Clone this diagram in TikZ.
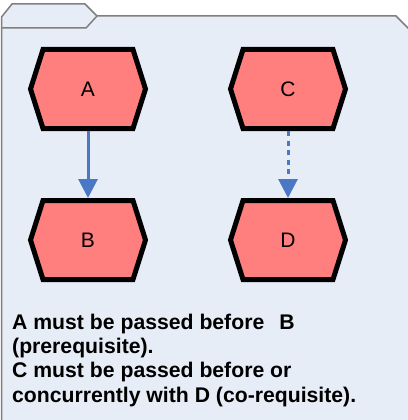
\documentclass[tikz,border=0pt]{standalone}
\usepackage{fontspec}
\setmainfont{Liberation Sans}
\usetikzlibrary{arrows.meta,calc}
\definecolor{folderbg}{HTML}{E7EDF7}
\definecolor{folderline}{HTML}{7F7F7F}
\definecolor{hexfill}{HTML}{FF7F7F}
\definecolor{arrowblue}{HTML}{4A78C4}
\tikzset{
  hexbox/.style={rectangle, draw=none, minimum width=115pt, minimum height=79pt,
    inner sep=0pt, outer sep=0pt, font=\fontsize{21}{24}\selectfont},
  hexline/.style={draw=black, fill=hexfill, line width=5pt, line join=miter},
  link/.style={draw=arrowblue, line width=3pt, shorten <=2.5pt, shorten >=2.5pt,
    -{Triangle[width=19pt,length=19pt]}},
  dashlink/.style={link, dash pattern=on 5pt off 4.5pt},
  folder/.style={draw=folderline, fill=folderbg, line width=1.5pt, line join=miter}
}
\newcommand{\hexagonof}[1]{%
  \path[hexline] (#1.west) -- ([xshift=12.5pt]#1.north west) -- ([xshift=-12.5pt]#1.north east)
    -- (#1.east) -- ([xshift=-12.5pt]#1.south east) -- ([xshift=12.5pt]#1.south west) -- cycle;}
\begin{document}
\begin{tikzpicture}[x=1pt,y=-1pt]
\useasboundingbox (0,0) rectangle (407,420);
% folder
\path[folder] (1.5,425) -- (1.5,17) -- (12,4) -- (85,4) -- (97,16) -- (396,16) -- (410,30) -- (410,425) -- cycle;
\draw[draw=folderline, line width=1.5pt] (1.5,28) -- (86,28) -- (97,16);
% nodes
\node[hexbox] (A) at (88,89) {};
\node[hexbox] (B) at (88,240) {};
\node[hexbox] (C) at (288,89) {};
\node[hexbox] (D) at (288,240) {};
\hexagonof{A}\hexagonof{B}\hexagonof{C}\hexagonof{D}
\node[hexbox] at (A) {A};
\node[hexbox] at (B) {B};
\node[hexbox] at (C) {C};
\node[hexbox] at (D) {D};
% connectors
\draw[link] (A.south) -- (B.north);
\draw[dashlink] (C.south) -- (D.north);
% text
\node (T) [anchor=base west, align=left, inner sep=0pt,
  font=\bfseries\fontsize{21.2}{24.3}\selectfont] at (12,402)
  {A must be passed before\hspace{15pt}B\\(prerequisite).\\C must be passed before or\\concurrently with D (co-requisite).};
\end{tikzpicture}
\end{document}
